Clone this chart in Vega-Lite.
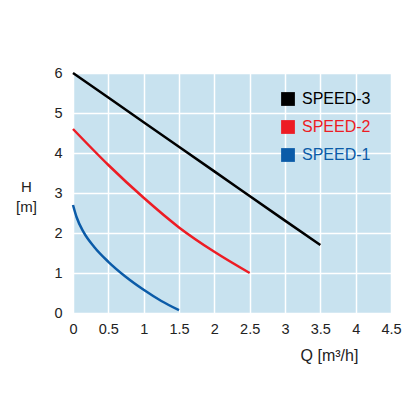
{
  "$schema": "https://vega.github.io/schema/vega-lite/v6.json",
  "autosize": "none",
  "width": 318,
  "height": 240,
  "padding": {"left": 73, "top": 73, "right": 25, "bottom": 103},
  "background": "white",
  "config": {
    "font": "Liberation Sans",
    "view": {"fill": "#c8e2ef", "stroke": null}
  },
  "data": {
    "values": [
      {"speed": "SPEED-3", "q": 0, "h": 6.0},
      {"speed": "SPEED-3", "q": 1, "h": 4.77},
      {"speed": "SPEED-3", "q": 2, "h": 3.54},
      {"speed": "SPEED-3", "q": 3, "h": 2.31},
      {"speed": "SPEED-3", "q": 3.5, "h": 1.7},
      {"speed": "SPEED-2", "q": 0, "h": 4.6},
      {"speed": "SPEED-2", "q": 0.5, "h": 3.7},
      {"speed": "SPEED-2", "q": 1, "h": 2.88},
      {"speed": "SPEED-2", "q": 1.5, "h": 2.14},
      {"speed": "SPEED-2", "q": 2, "h": 1.53},
      {"speed": "SPEED-2", "q": 2.5, "h": 1.0},
      {"speed": "SPEED-1", "q": 0, "h": 2.7},
      {"speed": "SPEED-1", "q": 0.05, "h": 2.4},
      {"speed": "SPEED-1", "q": 0.15, "h": 2.02},
      {"speed": "SPEED-1", "q": 0.3, "h": 1.65},
      {"speed": "SPEED-1", "q": 0.5, "h": 1.28},
      {"speed": "SPEED-1", "q": 0.75, "h": 0.9},
      {"speed": "SPEED-1", "q": 1, "h": 0.58},
      {"speed": "SPEED-1", "q": 1.25, "h": 0.3},
      {"speed": "SPEED-1", "q": 1.5, "h": 0.07}
    ]
  },
  "mark": {"type": "line", "interpolate": "monotone", "strokeWidth": 2.5},
  "encoding": {
    "x": {
      "field": "q",
      "type": "quantitative",
      "scale": {"domain": [0, 4.5], "nice": false},
      "axis": {
        "values": [0, 0.5, 1, 1.5, 2, 2.5, 3, 3.5, 4, 4.5],
        "format": ".1~f",
        "domain": false,
        "ticks": false,
        "grid": true,
        "gridColor": "white",
        "gridWidth": 1.5,
        "gridOpacity": 1,
        "labelFontSize": 14.5,
        "labelColor": "#222",
        "labelPadding": 9,
        "labelFlush": false,
        "title": "Q [m³/h]",
        "titleFontSize": 16,
        "titleFontWeight": "normal",
        "titleColor": "#222",
        "titleAnchor": null,
        "titleAlign": "center",
        "titleBaseline": "top",
        "titleX": 256,
        "titleY": 34
      }
    },
    "y": {
      "field": "h",
      "type": "quantitative",
      "scale": {"domain": [0, 6], "nice": false},
      "axis": {
        "values": [0, 1, 2, 3, 4, 5, 6],
        "domain": false,
        "ticks": false,
        "grid": true,
        "gridColor": "white",
        "gridWidth": 1.5,
        "gridOpacity": 1,
        "labelFontSize": 14.5,
        "labelColor": "#222",
        "labelPadding": 11,
        "labelFlush": false,
        "title": ["H", "[m]"],
        "titleAngle": 0,
        "titleFontSize": 15,
        "titleFontWeight": "normal",
        "titleColor": "#222",
        "titleLineHeight": 20,
        "titleAnchor": null,
        "titleAlign": "center",
        "titleBaseline": "top",
        "titleX": -47,
        "titleY": 106
      }
    },
    "color": {
      "field": "speed",
      "type": "nominal",
      "scale": {
        "domain": ["SPEED-3", "SPEED-2", "SPEED-1"],
        "range": ["#000000", "#ed1c24", "#0b5ba8"]
      },
      "legend": {
        "title": null,
        "orient": "none",
        "legendX": 207,
        "legendY": 18,
        "symbolType": "square",
        "symbolSize": 190,
        "symbolStrokeWidth": 0,
        "labelFontSize": 16,
        "labelOffset": 6,
        "rowPadding": 12,
        "encode": {
          "symbols": {
            "update": {
              "fill": {"signal": "scale('color', datum.value)"},
              "strokeWidth": {"value": 0}
            }
          },
          "labels": {
            "update": {
              "fill": {"signal": "scale('color', datum.value)"}
            }
          }
        }
      }
    }
  }
}
